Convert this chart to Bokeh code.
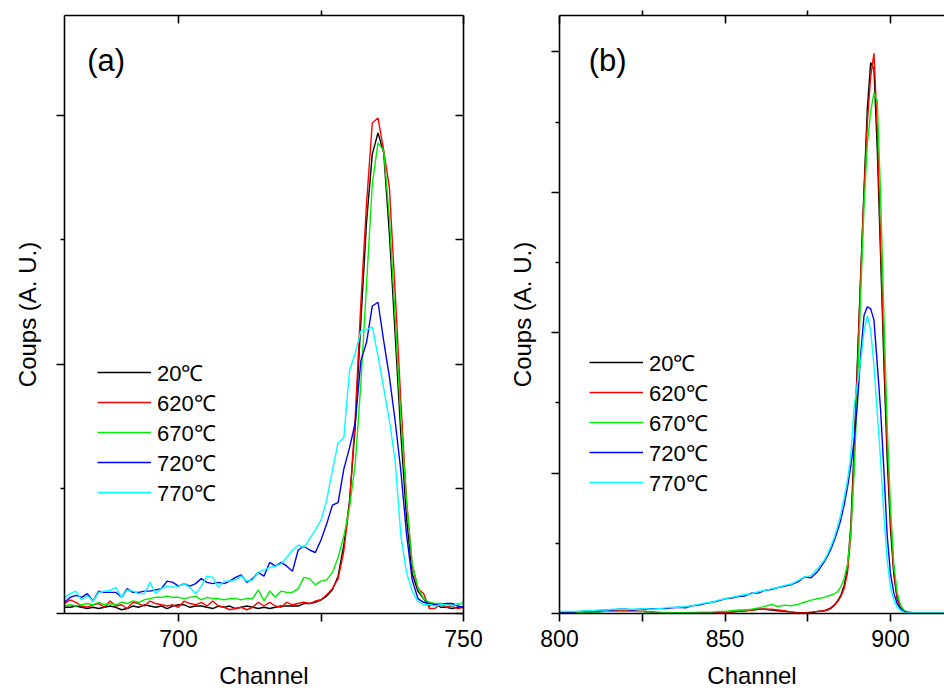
from bokeh.plotting import figure
from bokeh.models import FixedTicker, LinearAxis, Label
from bokeh.layouts import row
from bokeh.embed import file_html
from bokeh.resources import INLINE

FONT = "Liberation Sans"

series_labels = ["20℃", "620℃", "670℃", "720℃", "770℃"]
series_colors = ["#000000", "#ff0000", "#00ee00", "#0000ff", "#00ffff"]

# ---------------- panel (a) ----------------
x_a = list(range(680, 751))
a_20 = [0.05, 0.05, 0.06, 0.05, 0.04, 0.05, 0.04, 0.05, 0.06, 0.05,
        0.03, 0.04, 0.06, 0.05, 0.07, 0.06, 0.05, 0.06, 0.04, 0.06,
        0.07, 0.07, 0.05, 0.06, 0.06, 0.05, 0.04, 0.06, 0.05, 0.06,
        0.04, 0.05, 0.06, 0.05, 0.04, 0.05, 0.04, 0.05, 0.06, 0.06,
        0.06, 0.06, 0.08, 0.08, 0.09, 0.11, 0.14, 0.19, 0.30, 0.55,
        0.90, 1.50, 2.35, 3.15, 3.69, 3.86, 3.70, 3.05, 2.25, 1.45,
        0.77, 0.32, 0.18, 0.12, 0.06, 0.08, 0.05, 0.05, 0.04, 0.05,
        0.05]
a_620 = [0.08, 0.11, 0.09, 0.06, 0.05, 0.07, 0.08, 0.05, 0.10, 0.06,
         0.07, 0.04, 0.09, 0.08, 0.06, 0.10, 0.08, 0.07, 0.06, 0.07,
         0.05, 0.10, 0.08, 0.07, 0.09, 0.06, 0.10, 0.06, 0.05, 0.03,
         0.04, 0.05, 0.03, 0.05, 0.09, 0.06, 0.09, 0.06, 0.05, 0.09,
         0.07, 0.08, 0.09, 0.08, 0.10, 0.11, 0.15, 0.20, 0.28, 0.50,
         0.88, 1.57, 2.50, 3.30, 3.94, 3.98, 3.72, 3.42, 2.59, 1.71,
         0.91, 0.39, 0.20, 0.16, 0.04, 0.04, 0.08, 0.05, 0.06, 0.04,
         0.05]
a_670 = [0.06, 0.07, 0.06, 0.07, 0.08, 0.07, 0.09, 0.07, 0.08, 0.07,
         0.09, 0.08, 0.10, 0.09, 0.11, 0.12, 0.13, 0.13, 0.14, 0.13,
         0.13, 0.12, 0.13, 0.14, 0.11, 0.13, 0.12, 0.12, 0.11, 0.12,
         0.12, 0.11, 0.12, 0.12, 0.19, 0.10, 0.18, 0.13, 0.18, 0.17,
         0.17, 0.20, 0.29, 0.28, 0.23, 0.26, 0.27, 0.33, 0.45, 0.62,
         0.85, 1.20, 1.85, 2.65, 3.45, 3.78, 3.72, 3.18, 2.38, 1.57,
         0.91, 0.40, 0.21, 0.12, 0.09, 0.08, 0.08, 0.07, 0.08, 0.07,
         0.09]
a_720 = [0.09, 0.13, 0.145, 0.13, 0.16, 0.10, 0.18, 0.17, 0.17, 0.17,
         0.13, 0.20, 0.17, 0.17, 0.18, 0.18, 0.19, 0.20, 0.26, 0.25,
         0.22, 0.24, 0.22, 0.24, 0.28, 0.25, 0.24, 0.25, 0.24, 0.26,
         0.29, 0.31, 0.25, 0.28, 0.33, 0.30, 0.41, 0.38, 0.41, 0.38,
         0.34, 0.51, 0.54, 0.51, 0.49, 0.59, 0.72, 0.87, 0.89, 1.16,
         1.33, 1.53, 2.03, 2.18, 2.47, 2.50, 2.19, 1.90, 1.55, 1.15,
         0.64, 0.27, 0.12, 0.09, 0.08, 0.07, 0.07, 0.08, 0.08, 0.06,
         0.05]
a_770 = [0.13, 0.16, 0.18, 0.11, 0.145, 0.10, 0.17, 0.18, 0.185, 0.21,
         0.13, 0.19, 0.18, 0.16, 0.16, 0.25, 0.16, 0.20, 0.22, 0.21,
         0.22, 0.24, 0.21, 0.16, 0.22, 0.30, 0.29, 0.21, 0.26, 0.26,
         0.27, 0.30, 0.26, 0.27, 0.33, 0.35, 0.37, 0.38, 0.40, 0.45,
         0.51, 0.55, 0.53, 0.60, 0.67, 0.75, 0.91, 1.15, 1.37, 1.41,
         1.95, 2.09, 2.27, 2.28, 2.30, 2.07, 1.81, 1.55, 1.23, 0.63,
         0.33, 0.18, 0.10, 0.07, 0.07, 0.06, 0.07, 0.07, 0.06, 0.08,
         0.08]

a_xticks = [700, 750]
a_xminor = [725]
a_yticks = [0, 2, 4]
a_yminor = [1, 3]

# ---------------- panel (b) ----------------
x_b = list(range(800, 880, 2)) + list(range(880, 918))
b_20 = [0.00, 0.00, 0.01, 0.01, 0.02, 0.02, 0.03, 0.03, 0.03, 0.04,
        0.04, 0.03, 0.03, 0.03, 0.02, 0.01, 0.01, 0.00, 0.00, 0.00,
        0.00, 0.00, 0.00, 0.01, 0.01, 0.01, 0.02, 0.03, 0.04, 0.05,
        0.06, 0.06, 0.05, 0.04, 0.03, 0.02, 0.01, 0.01, 0.01, 0.03,
        0.04, 0.06, 0.08, 0.12, 0.18, 0.26, 0.40, 0.65, 1.25, 2.35,
        3.60, 4.85, 6.05, 7.20, 7.85, 7.75, 6.60, 5.10, 3.55, 2.20,
        1.20, 0.55, 0.21, 0.08, 0.035, 0.02, 0.01, 0.01, 0.005, 0.005,
        0.005, 0.005, 0.005, 0.005, 0.005, 0.005, 0.005, 0.005]
b_620 = [0.00, 0.01, 0.01, 0.01, 0.02, 0.03, 0.03, 0.03, 0.04, 0.04,
         0.04, 0.04, 0.03, 0.03, 0.02, 0.01, 0.01, 0.01, 0.00, 0.00,
         0.00, 0.00, 0.01, 0.01, 0.01, 0.01, 0.02, 0.03, 0.04, 0.05,
         0.06, 0.06, 0.06, 0.05, 0.04, 0.02, 0.01, 0.01, 0.02, 0.03,
         0.04, 0.05, 0.07, 0.11, 0.17, 0.24, 0.36, 0.58, 1.10, 2.20,
         3.50, 4.80, 6.00, 7.00, 7.65, 7.98, 6.90, 5.30, 3.75, 2.40,
         1.32, 0.60, 0.23, 0.09, 0.04, 0.02, 0.01, 0.01, 0.005, 0.005,
         0.005, 0.005, 0.005, 0.005, 0.005, 0.005, 0.005, 0.005]
b_670 = [0.01, 0.01, 0.01, 0.01, 0.02, 0.02, 0.02, 0.03, 0.03, 0.03,
         0.03, 0.03, 0.03, 0.02, 0.02, 0.02, 0.01, 0.01, 0.01, 0.01,
         0.01, 0.02, 0.02, 0.02, 0.03, 0.03, 0.04, 0.05, 0.05, 0.06,
         0.08, 0.10, 0.13, 0.10, 0.12, 0.11, 0.13, 0.16, 0.19, 0.21,
         0.23, 0.25, 0.26, 0.28, 0.31, 0.38, 0.50, 0.70, 1.15, 2.00,
         3.20, 4.55, 5.80, 6.70, 7.15, 7.42, 7.30, 5.95, 4.25, 2.65,
         1.50, 0.70, 0.30, 0.12, 0.05, 0.02, 0.01, 0.01, 0.005, 0.005,
         0.005, 0.005, 0.005, 0.005, 0.005, 0.005, 0.005, 0.005]
b_720 = [0.02, 0.02, 0.02, 0.03, 0.03, 0.03, 0.04, 0.05, 0.05, 0.06,
         0.06, 0.05, 0.06, 0.06, 0.07, 0.07, 0.07, 0.08, 0.09, 0.08,
         0.11, 0.12, 0.14, 0.16, 0.18, 0.21, 0.22, 0.24, 0.25, 0.29,
         0.29, 0.33, 0.34, 0.37, 0.39, 0.41, 0.45, 0.52, 0.51, 0.60,
         0.74, 0.82, 0.92, 1.04, 1.18, 1.34, 1.55, 1.80, 2.10, 2.46,
         3.00, 3.70, 4.25, 4.37, 4.34, 4.18, 3.55, 2.90, 2.04, 1.10,
         0.56, 0.29, 0.14, 0.07, 0.035, 0.02, 0.015, 0.01, 0.01, 0.01,
         0.01, 0.01, 0.01, 0.01, 0.01, 0.01, 0.01, 0.01]
b_770 = [0.03, 0.03, 0.03, 0.03, 0.04, 0.04, 0.05, 0.05, 0.06, 0.06,
         0.06, 0.06, 0.06, 0.07, 0.06, 0.07, 0.08, 0.09, 0.09, 0.10,
         0.11, 0.13, 0.15, 0.16, 0.19, 0.21, 0.23, 0.25, 0.27, 0.28,
         0.31, 0.33, 0.35, 0.37, 0.40, 0.42, 0.47, 0.52, 0.54, 0.64,
         0.76, 0.85, 0.96, 1.08, 1.24, 1.42, 1.65, 1.90, 2.25, 2.95,
         3.28, 3.60, 4.03, 4.24, 4.03, 3.53, 2.86, 2.18, 1.40, 0.75,
         0.37, 0.19, 0.09, 0.045, 0.02, 0.015, 0.01, 0.01, 0.01, 0.01,
         0.01, 0.01, 0.01, 0.01, 0.01, 0.01, 0.01, 0.01]

b_xticks = [800, 850, 900]
b_xminor = [825, 875]
b_yticks = [0, 2, 4, 6, 8]
b_yminor = [1, 3, 5, 7]


def style_axis(ax, major_in, major_out, minor_in, minor_out, show_labels):
    ax.axis_line_color = "black"
    ax.axis_line_width = 1.6
    ax.major_tick_line_color = "black"
    ax.major_tick_line_width = 1.6
    ax.minor_tick_line_color = "black"
    ax.minor_tick_line_width = 1.6
    ax.major_tick_in = major_in
    ax.major_tick_out = major_out
    ax.minor_tick_in = minor_in
    ax.minor_tick_out = minor_out
    ax.major_label_text_font = FONT
    if show_labels:
        ax.major_label_text_color = "black"
        ax.major_label_text_font_size = "23px"
        ax.major_label_standoff = 8
    else:
        ax.major_label_text_color = None
        ax.major_label_text_font_size = "0px"
        ax.major_label_standoff = 0
    ax.axis_label_text_font = FONT
    ax.axis_label_text_font_size = "24px"
    ax.axis_label_text_font_style = "normal"
    ax.axis_label_text_color = "black"


def make_panel(xs, ys_list, xr, yr, xt, xm, yt, ym, fw, mbl, mbr, with_right,
               tag, tag_x, tag_y, leg_loc):
    p = figure(x_range=xr, y_range=yr, frame_width=fw, frame_height=598,
               min_border_left=mbl, min_border_right=mbr, min_border_top=15,
               min_border_bottom=76, toolbar_location=None,
               output_backend="svg", background_fill_color="white",
               border_fill_color="white")
    p.outline_line_color = None
    p.xgrid.visible = False
    p.ygrid.visible = False

    bx = p.below[0]
    bx.ticker = FixedTicker(ticks=xt, minor_ticks=xm)
    style_axis(bx, 0, 8, 0, 8, True)
    bx.axis_label = "Channel"
    bx.axis_label_standoff = 12

    ly = p.left[0]
    ly.ticker = FixedTicker(ticks=yt, minor_ticks=ym)
    style_axis(ly, 0, 8, 0, 4, False)
    ly.axis_label = "Coups (A. U.)"
    ly.axis_label_standoff = 16

    tx = LinearAxis(ticker=FixedTicker(ticks=xt, minor_ticks=xm))
    style_axis(tx, 8, 0, 0, 5, False)
    p.add_layout(tx, "above")

    if with_right:
        ry = LinearAxis(ticker=FixedTicker(ticks=yt, minor_ticks=ym))
        style_axis(ry, 8, 0, 8, 0, False)
        p.add_layout(ry, "right")

    for ys, lab, col in zip(ys_list, series_labels, series_colors):
        p.line(xs, ys, line_color=col, line_width=1.4, legend_label=lab)

    lg = p.legend[0]
    lg.location = leg_loc
    lg.border_line_color = None
    lg.background_fill_alpha = 0
    lg.padding = 0
    lg.margin = 0
    lg.spacing = 0
    lg.glyph_width = 54
    lg.glyph_height = 24
    lg.label_height = 24
    lg.label_standoff = 6
    lg.label_text_font = FONT
    lg.label_text_font_size = "22px"
    lg.label_text_color = "black"

    p.add_layout(Label(x=tag_x, y=tag_y, text=tag, text_font=FONT,
                       text_font_size="31px", text_baseline="middle",
                       text_align="left", text_color="black"))
    return p


pa = make_panel(x_a, [a_20, a_620, a_670, a_720, a_770], (680, 750), (0, 4.803),
                a_xticks, a_xminor, a_yticks, a_yminor, 399, 64, 40, True,
                "(a)", 684.0, 4.44, (33, 106))
pb = make_panel(x_b, [b_20, b_620, b_670, b_720, b_770], (800, 916.3), (0, 8.52),
                b_xticks, b_xminor, b_yticks, b_yminor, 385, 56, 0, False,
                "(b)", 808.8, 7.88, (30, 116))

layout = row(pa, pb)
open("out.html", "w").write(file_html(layout, INLINE))
